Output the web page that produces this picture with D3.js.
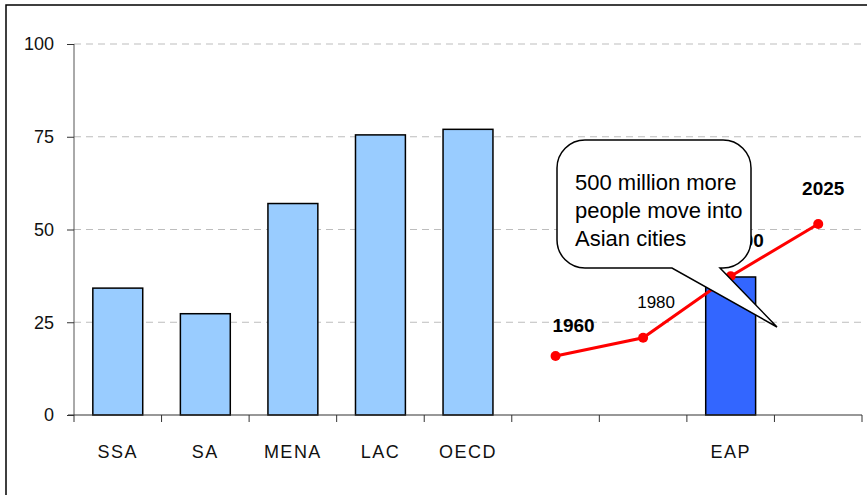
<!DOCTYPE html>
<html><head><meta charset="utf-8">
<script src="https://cdn.jsdelivr.net/npm/d3@7"></script>
<style>body{margin:0;background:#fff}svg{display:block}</style>
</head><body>
<script>
// ---- data ----
const categories = ["SSA","SA","MENA","LAC","OECD","","","EAP",""];
const barValues  = [34.2, 27.3, 57.0, 75.5, 77.0, null, null, 37.2, null];
const highlight  = [false,false,false,false,false,false,false,true,false];
const years      = ["1960","1980","2000","2025"];
const yearSlots  = [5, 6, 7, 8];
const urbanShare = [15.9, 20.8, 37.4, 51.5];
const yearBold   = [true, false, true, true];
const yTicks     = [0, 25, 50, 75, 100];
const calloutLines = ["500 million more","people move into","Asian cities"];

// ---- layout ----
const W = 867, H = 495;
const svg = d3.select("body").append("svg").attr("width", W).attr("height", H);
const font = "Liberation Sans, Arial, sans-serif";

svg.append("rect").attr("x",6).attr("y",5).attr("width",900).attr("height",520)
  .attr("fill","#fff").attr("stroke","#000").attr("stroke-width",1.5);

const keys = categories.map((c,i)=>"k"+i);
const x = d3.scaleBand().domain(keys).range([74, 862]).padding(0);
const y = d3.scaleLinear().domain([0,100]).range([415, 44]);

// gridlines
svg.append("g").selectAll("line").data(yTicks.filter(t=>t>0)).join("line")
  .attr("x1",74).attr("x2",862).attr("y1",d=>y(d)).attr("y2",d=>y(d))
  .attr("stroke","#bdbdbd").attr("stroke-width",1).attr("stroke-dasharray","7,5");

// bars
const bw = x.bandwidth()*0.57;
svg.append("g").selectAll("rect").data(barValues.map((v,i)=>({v,i})).filter(d=>d.v!=null)).join("rect")
  .attr("x",d=>x(keys[d.i]) + (x.bandwidth()-bw)/2)
  .attr("y",d=>y(d.v)).attr("width",bw).attr("height",d=>y(0)-y(d.v))
  .attr("fill",d=>highlight[d.i] ? "#3366FF" : "#99CCFF")
  .attr("stroke","#000").attr("stroke-width",1.5);

// y axis
const yAxis = svg.append("g").attr("transform","translate(74,0)")
  .call(d3.axisLeft(y).tickValues(yTicks).tickSize(7).tickPadding(13));
yAxis.select(".domain").attr("stroke","#555").attr("d","M0,415V44");
yAxis.selectAll(".tick line").attr("stroke","#333");
yAxis.selectAll("text").attr("font-family",font).attr("font-size",18).attr("fill","#111");

// x axis
const xg = svg.append("g");
xg.append("line").attr("x1",68).attr("x2",862).attr("y1",415).attr("y2",415).attr("stroke","#333").attr("stroke-width",1.2);
const bounds = keys.map(k=>x(k)).concat([x.range()[1]]);
xg.selectAll("line.t").data(bounds).join("line").attr("class","t")
  .attr("x1",d=>d).attr("x2",d=>d).attr("y1",415).attr("y2",422).attr("stroke","#333");
xg.selectAll("text").data(categories.map((c,i)=>({c,i}))).join("text")
  .attr("x",d=>x(keys[d.i])+x.bandwidth()/2).attr("y",458)
  .attr("text-anchor","middle").attr("font-family",font).attr("font-size",18)
  .attr("letter-spacing",1.5).attr("fill","#111").text(d=>d.c);

// line series
const pts = years.map((yr,i)=>({yr, px: x(keys[yearSlots[i]])+x.bandwidth()/2, py: y(urbanShare[i]), bold: yearBold[i]}));
const labelDx = [18, 13, 12, 5];
const labelDy = [-24, -30, -29, -29];
svg.append("g").selectAll("text").data(pts).join("text")
  .attr("x",(d,i)=>d.px+labelDx[i]).attr("y",(d,i)=>d.py+labelDy[i])
  .attr("text-anchor","middle").attr("font-family",font)
  .attr("font-size",d=>d.bold?19:17).attr("font-weight",d=>d.bold?"bold":"normal")
  .attr("fill","#000").text(d=>d.yr);
svg.append("path").datum(pts)
  .attr("d", d3.line().x(d=>d.px).y(d=>d.py))
  .attr("fill","none").attr("stroke","#FF0000").attr("stroke-width",3);
svg.append("g").selectAll("circle").data(pts).join("circle")
  .attr("cx",d=>d.px).attr("cy",d=>d.py).attr("r",5).attr("fill","#FF0000");

// callout
const L=557, T=140, R=751, B=268, r=28;
const p = d3.path();
p.moveTo(L+r,T); p.lineTo(R-r,T); p.arcTo(R,T,R,T+r,r);
p.lineTo(R,B-r); p.arcTo(R,B,R-r,B,r);
p.lineTo(720,B); p.lineTo(777,327); p.lineTo(672,B);
p.lineTo(L+r,B); p.arcTo(L,B,L,B-r,r);
p.lineTo(L,T+r); p.arcTo(L,T,L+r,T,r); p.closePath();
svg.append("path").attr("d",p.toString()).attr("fill","#fff").attr("stroke","#000").attr("stroke-width",1.5);
svg.append("g").selectAll("text").data(calloutLines).join("text")
  .attr("x",575).attr("y",(d,i)=>190+i*28)
  .attr("font-family",font).attr("font-size",22).attr("fill","#000").text(d=>d);
</script>
</body></html>
